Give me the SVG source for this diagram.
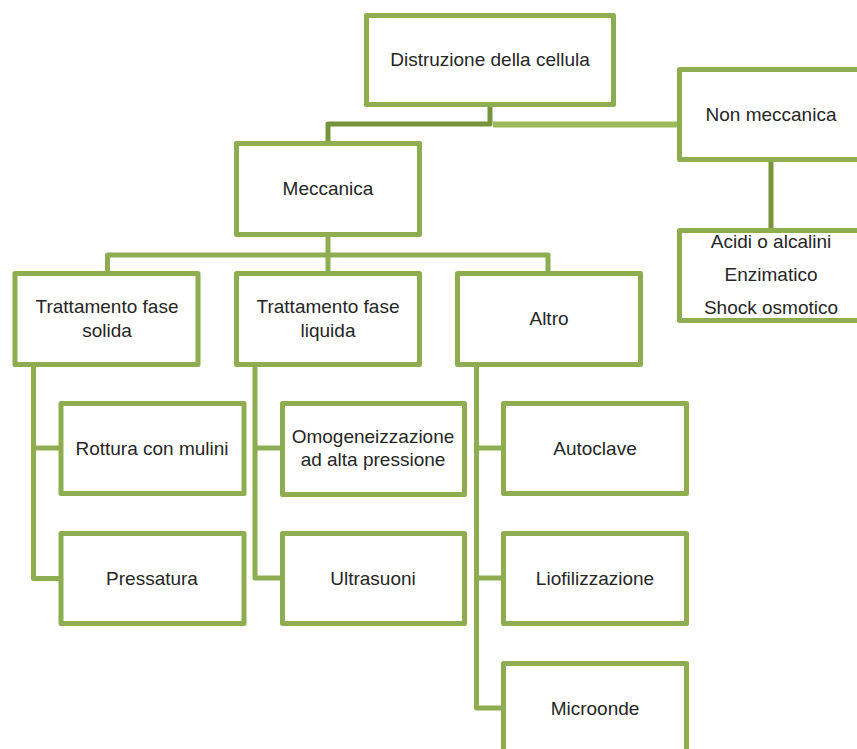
<svg xmlns="http://www.w3.org/2000/svg" width="857" height="749" viewBox="0 0 857 749">
<style>
.box{fill:#ffffff;stroke:#8EAC50;stroke-width:5;stroke-linejoin:round}
.c{fill:none;stroke:#8EAC50;stroke-width:5;stroke-linejoin:round}
.cd{fill:none;stroke:#77933C;stroke-width:5;stroke-linejoin:round}
.cl{fill:none;stroke:#9BBB59;stroke-width:6}
text{font-family:"Liberation Sans",Arial,sans-serif;font-size:19px;fill:#262626;text-anchor:middle}
</style>
<rect width="857" height="749" fill="#ffffff"/>
<g id="connectors">
<polyline class="cd" points="490,105 490,124 328,124 328,142"/>
<line class="cl" x1="493" y1="124.5" x2="682" y2="124.5"/>
<line class="cd" x1="771" y1="160" x2="771" y2="230"/>
<line class="c" x1="328" y1="236" x2="328" y2="273"/>
<polyline class="c" points="107.5,273 107.5,255 548,255 548,273"/>
<polyline class="c" points="33.5,366 33.5,578.5 61,578.5"/>
<line class="c" x1="33.5" y1="448" x2="61" y2="448"/>
<polyline class="c" points="255,366 255,578 282,578"/>
<line class="c" x1="255" y1="448" x2="282" y2="448"/>
<polyline class="c" points="476.5,366 476.5,708 503,708"/>
<line class="c" x1="476.5" y1="448" x2="503" y2="448"/>
<line class="c" x1="476.5" y1="578" x2="503" y2="578"/>
</g>
<g id="n-root"><rect class="box" x="366.5" y="15.5" width="247" height="89"/><text x="490" y="66">Distruzione della cellula</text></g>
<g id="n-nonmecc"><rect class="box" x="679.5" y="69.5" width="200" height="90"/><text x="771" y="121">Non meccanica</text></g>
<g id="n-acidi"><rect class="box" x="679.5" y="230.5" width="200" height="90"/><text x="771" y="248">Acidi o alcalini</text><text x="771" y="281">Enzimatico</text><text x="771" y="314">Shock osmotico</text></g>
<g id="n-mecc"><rect class="box" x="236.5" y="143.5" width="183" height="91"/><text x="328" y="195">Meccanica</text></g>
<g id="n-solida"><rect class="box" x="15" y="273.5" width="183" height="91"/><text x="107" y="313">Trattamento fase</text><text x="107" y="337">solida</text></g>
<g id="n-liquida"><rect class="box" x="236.5" y="273.5" width="183" height="91"/><text x="328" y="313">Trattamento fase</text><text x="328" y="337">liquida</text></g>
<g id="n-altro"><rect class="box" x="457.5" y="273.5" width="183" height="91"/><text x="549" y="325">Altro</text></g>
<g id="n-rottura"><rect class="box" x="61" y="403.5" width="183" height="90"/><text x="152" y="455">Rottura con mulini</text></g>
<g id="n-pressatura"><rect class="box" x="61" y="533.5" width="183" height="90"/><text x="152" y="585">Pressatura</text></g>
<g id="n-omog"><rect class="box" x="282.5" y="403.5" width="182" height="91"/><text x="373" y="443">Omogeneizzazione</text><text x="373" y="466">ad alta pressione</text></g>
<g id="n-ultra"><rect class="box" x="282.5" y="533.5" width="182" height="90"/><text x="373" y="585">Ultrasuoni</text></g>
<g id="n-autoclave"><rect class="box" x="503.5" y="403.5" width="183" height="90"/><text x="595" y="455">Autoclave</text></g>
<g id="n-liofil"><rect class="box" x="503.5" y="533.5" width="183" height="90"/><text x="595" y="585">Liofilizzazione</text></g>
<g id="n-micro"><rect class="box" x="503.5" y="663.5" width="183" height="90"/><text x="595" y="715">Microonde</text></g>
</svg>
